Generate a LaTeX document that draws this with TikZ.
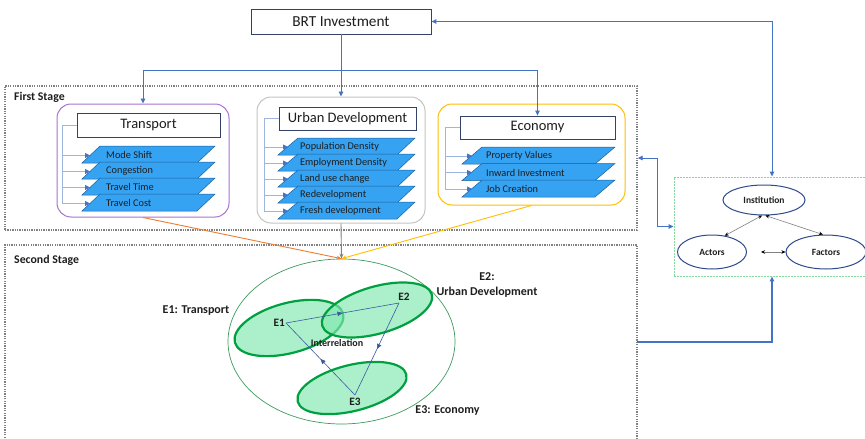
\documentclass[tikz,border=0pt]{standalone}
\usepackage{fontspec}
\setmainfont{Carlito}
\usetikzlibrary{shapes.geometric,arrows.meta,decorations.markings}
\definecolor{lineblue}{HTML}{4472C4}
\definecolor{lightline}{HTML}{9DB5E0}
\definecolor{parafill}{HTML}{35A2F2}
\definecolor{paraedge}{HTML}{1E5E9A}
\definecolor{titleedge}{HTML}{34426A}
\definecolor{purp}{HTML}{A872D2}
\definecolor{grayb}{HTML}{C4C4C4}
\definecolor{yel}{HTML}{FFC000}
\definecolor{orng}{HTML}{ED7D31}
\definecolor{egreen}{HTML}{00A040}
\definecolor{efill}{HTML}{7FE8AE}
\definecolor{bigg}{HTML}{3E9B5E}
\definecolor{ellblue}{HTML}{2F4A8A}
\definecolor{dotgray}{HTML}{808080}
\definecolor{dotgreen}{HTML}{86D8A2}
\definecolor{triblue}{HTML}{3A5BA0}
\definecolor{txt}{HTML}{1E1E1E}
\tikzset{
  titlebox/.style={draw=titleedge, line width=0.8pt, fill=white, inner sep=0pt, text=txt, font=\fontsize{14.5}{16}\selectfont},
  groupbox/.style={rounded corners=14pt, line width=1pt, minimum width=#1},
  stagebox/.style={draw=dotgray, line width=1.4pt, dash pattern=on 1.3pt off 1.1pt},
  bluearrow/.style={draw=lineblue, line width=0.9pt, -{Triangle[length=5pt,width=4.5pt]}},
  bracket/.style={draw=lightline, line width=0.8pt},
  tickarrow/.style={draw=lightline, line width=0.8pt, -{Triangle[length=5pt,width=5pt,color=lineblue]}},
  para/.style={draw=paraedge, line width=0.5pt, fill=parafill},
  paratext/.style={anchor=west, inner sep=0pt, text=txt, font=\fontsize{10.3}{11}\selectfont},
  stagelabel/.style={anchor=west, inner sep=0pt, text=txt, font=\bfseries\fontsize{11.8}{13}\selectfont},
  eell/.style={ellipse, draw=egreen, line width=2.2pt, fill=efill, fill opacity=0.65, inner sep=0pt},
  elab/.style={inner sep=1pt, text=txt, font=\bfseries\fontsize{12}{15}\selectfont},
  tri/.style={draw=triblue, line width=0.6pt},
  midarrow/.style={postaction={decorate, decoration={markings, mark=at position 0.5 with {\arrow{Triangle[length=5pt,width=4.5pt,color=triblue]}}}}},
  actell/.style={ellipse, draw=ellblue, line width=1pt, fill=white, inner sep=0pt, text=txt, font=\bfseries\fontsize{9.5}{11}\selectfont},
  grayarrow/.style={draw=gray, line width=0.6pt, {Stealth[length=4pt,width=3.5pt,color=black]}-{Stealth[length=4pt,width=3.5pt,color=black]}}
}
\begin{document}
\begin{tikzpicture}[x=1pt,y=-1pt]
\useasboundingbox[fill=white] (0,0) rectangle (865,439);

% stages
\node[stagebox, minimum width=632, minimum height=144, inner sep=0pt] (fs) at (321,158) {};
\node[stagelabel] (fsl) at (14,97) {First Stage};
\draw[stagebox] (5,445) |- (637,245) -- (637,445);
\node[stagelabel] (ssl) at (14,260) {Second Stage};
\coordinate (ssr) at (637,342);

% top box
\node[titlebox, minimum width=180, minimum height=25, font=\fontsize{15.3}{17}\selectfont] (brt) at (341,21.5) {BRT Investment};

% group boxes
\node[groupbox=172, draw=purp, minimum height=113] (tg) at (143,160.5) {};
\node[groupbox=168, draw=grayb, minimum height=126] (ug) at (341,160) {};
\node[groupbox=187, draw=yel, minimum height=101] (eg) at (531.5,154.5) {};

\node[titlebox, minimum width=143, minimum height=24] (tt) at (148.5,125) {Transport};
\node[titlebox, minimum width=137, minimum height=23] (ut) at (347.5,118.5) {Urban Development};
\node[titlebox, minimum width=155, minimum height=23] (et) at (537.5,127.5) {Economy};

% BRT connectors
\coordinate (split) at (341,70);
\draw[bluearrow] (brt.south) -- (ug.north);
\draw[bluearrow] (split) -| (tg.north);
\draw[bluearrow] (split) -| (et.north);

% Transport items
\draw[bracket] (tt.west) -| (62,203.5);
\foreach \t/\lab [count=\i] in {146/Mode Shift, 162/Congestion, 178/Travel Time, 194/Travel Cost} {
  \draw[para] (82,\t+17) -- (100,\t) -- (215,\t) -- (197,\t+17) -- cycle;
  \coordinate (ta\i) at (90,\t+9.5);
  \draw[tickarrow] (62,\t+9.5) -- (ta\i);
  \node[paratext] (tp\i) at (106,\t+9) {\lab};
}
% Urban development items
\draw[bracket] (ut.west) -| (264,211);
\foreach \t/\lab [count=\i] in {138/Population Density, 154/Employment Density, 170/Land use change, 186/Redevelopment, 202/Fresh development} {
  \draw[para] (278,\t+17) -- (298,\t) -- (415,\t) -- (397,\t+17) -- cycle;
  \coordinate (ua\i) at (288,\t+9);
  \draw[tickarrow] (264,\t+9) -- (ua\i);
  \node[paratext] (up\i) at (300,\t+9) {\lab};
}
% Economy items
\draw[bracket] (et.west) -| (445,189);
\foreach \t/\lab [count=\i] in {147/Property Values, 163.5/Inward Investment, 180/Job Creation} {
  \draw[para] (462,\t+17) -- (482,\t) -- (615,\t) -- (595,\t+17) -- cycle;
  \coordinate (ea\i) at (472,\t+9);
  \draw[tickarrow] (445,\t+9) -- (ea\i);
  \node[paratext] (ep\i) at (486,\t+9) {\lab};
}

% second stage ellipses
\node[ellipse, draw=bigg, line width=0.7pt, minimum width=227, minimum height=165, inner sep=0pt] (big) at (341.5,341.5) {};
\node[eell, minimum width=112, minimum height=50, rotate=15] (e1) at (289,328) {};
\node[eell, minimum width=114, minimum height=47, rotate=16] (e2) at (377,310) {};
\node[eell, minimum width=112, minimum height=46, rotate=14] (e3) at (352,388) {};

\draw[orng, line width=0.9pt, -{Stealth[length=5pt,width=4pt]}] (tg.south) -- (big.north);
\draw[gray, line width=0.9pt, -{Stealth[length=5pt,width=4pt]}] (ug.south) -- (big.north);
\draw[yel, line width=0.9pt, -{Stealth[length=5pt,width=4pt]}] (eg.south) -- (big.north);

\coordinate (v1) at (286,323);
\coordinate (v2) at (399,303);
\coordinate (v3) at (355,395);
\draw[tri, midarrow] (v1) -- (v2);
\draw[tri, midarrow] (v2) -- (v3);
\draw[tri, midarrow] (v3) -- (v1);
\node[elab, anchor=east, font=\bfseries\fontsize{11.3}{13}\selectfont] (l1) at (v1) {E1};
\node[elab, font=\bfseries\fontsize{11.3}{13}\selectfont] (l2) at (404,297) {E2};
\node[elab, font=\bfseries\fontsize{11.3}{13}\selectfont] (l3) at (355,402) {E3};
\node[inner sep=0pt, text=txt, font=\bfseries\fontsize{10}{11}\selectfont] (inter) at (337,343) {Interrelation};

\node[elab] (n1) at (196,311) {E1: Transport};
\node[elab, align=center] (n2) at (487,285.5) {E2:\\Urban Development};
\node[elab] (n3) at (447.5,411) {E3: Economy};

% right block
\node[draw=dotgreen, line width=0.9pt, dash pattern=on 2pt off 1pt, minimum width=196, minimum height=99, inner sep=0pt] (gbox) at (772,226.5) {};
\node[actell, minimum width=82, minimum height=30] (inst) at (764,200) {Institution};
\node[actell, minimum width=69, minimum height=34] (act) at (712,252) {Actors};
\node[actell, minimum width=80, minimum height=34] (fac) at (826,252) {Factors};
\draw[grayarrow] (inst.263) -- (act.52);
\draw[grayarrow] (inst.275) -- (fac.100);
\draw[grayarrow, shorten <=14pt] (act.east) -- (fac.west);

\draw[draw=lineblue, line width=0.9pt, {Triangle[length=5pt,width=4.5pt]}-{Triangle[length=5pt,width=4.5pt]}] (brt.east) -| (gbox.north);
\draw[draw=lineblue, line width=0.9pt, {Triangle[length=5pt,width=4.5pt]}-{Triangle[length=5pt,width=4.5pt]}] (fs.east) -- ++(20,0) |- (gbox.west);
\draw[bluearrow, line width=1.3pt] (ssr) -| (gbox.south);
\end{tikzpicture}
\end{document}
